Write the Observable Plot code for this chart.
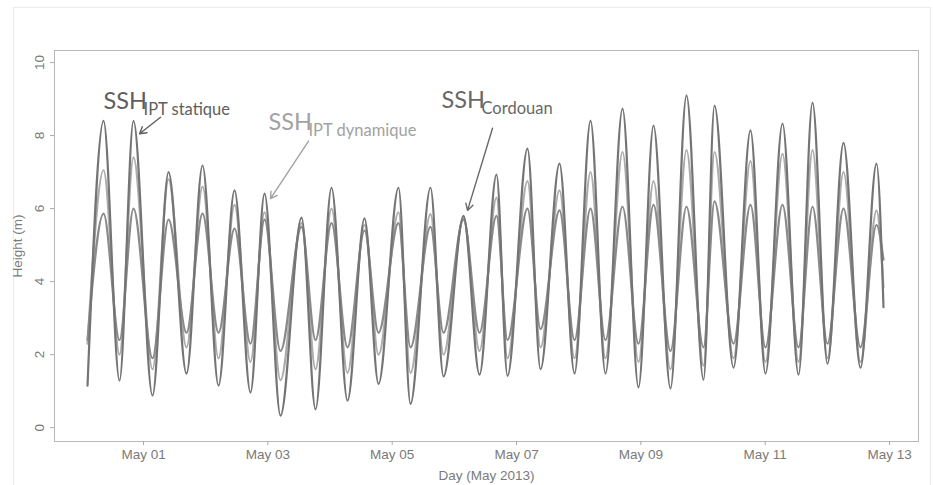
<!DOCTYPE html>
<html><head><meta charset="utf-8">
<script src="https://cdn.jsdelivr.net/npm/d3@7"></script>
<script src="https://cdn.jsdelivr.net/npm/@observablehq/plot@0.6"></script>
<style>
body{margin:0;background:#fff;}
#outer{position:absolute;left:13px;top:7px;width:918px;height:478px;border-left:1px solid #e9e9e9;border-top:1px solid #ededed;border-right:1px solid #e9e9e9;box-sizing:border-box;}
#chart{position:absolute;left:0;top:0;}
</style></head><body>
<div id="outer"></div><div id="chart"></div>
<script>
// times of the tide extrema, shared by the three series
const tideTimes = [
"2013-04-30T02:23Z","2013-04-30T08:34Z","2013-04-30T14:44Z","2013-04-30T20:08Z","2013-05-01T03:28Z",
"2013-05-01T09:39Z","2013-05-01T16:36Z","2013-05-01T22:47Z","2013-05-02T04:57Z","2013-05-02T11:08Z",
"2013-05-02T17:18Z","2013-05-02T22:43Z","2013-05-03T04:53Z","2013-05-03T13:00Z","2013-05-03T18:24Z",
"2013-05-04T00:35Z","2013-05-04T06:45Z","2013-05-04T13:19Z","2013-05-04T18:43Z","2013-05-05T02:26Z",
"2013-05-05T07:04Z","2013-05-05T14:47Z","2013-05-05T19:49Z","2013-05-06T03:32Z","2013-05-06T09:43Z",
"2013-05-06T16:16Z","2013-05-06T20:31Z","2013-05-07T04:14Z","2013-05-07T09:16Z","2013-05-07T16:35Z",
"2013-05-07T22:23Z","2013-05-08T04:34Z","2013-05-08T10:21Z","2013-05-08T16:55Z","2013-05-08T23:05Z",
"2013-05-09T04:53Z","2013-05-09T11:26Z","2013-05-09T17:37Z","2013-05-10T00:11Z","2013-05-10T04:26Z",
"2013-05-10T11:46Z","2013-05-10T18:19Z","2013-05-11T00:07Z","2013-05-11T06:41Z","2013-05-11T12:52Z",
"2013-05-11T18:16Z","2013-05-12T00:03Z","2013-05-12T06:14Z","2013-05-12T12:47Z","2013-05-12T18:58Z",
"2013-05-12T21:40Z"];
const statique = [1.15,8.4,1.29,8.4,0.88,7.0,1.48,7.18,1.15,6.5,
0.96,6.41,0.33,5.75,0.5,6.57,0.74,5.73,1.2,6.57,
0.65,6.57,1.4,5.8,1.45,6.93,1.42,7.64,1.6,7.23,
1.48,8.41,1.48,8.74,1.1,8.27,1.07,9.1,1.31,8.82,
1.64,8.14,1.48,8.33,1.45,8.9,1.75,7.8,1.64,7.23,3.3];
const dynamique = [2.3,7.05,2.0,7.4,1.6,6.8,2.2,6.6,1.9,6.1,
1.8,5.9,1.3,5.6,1.6,6.0,1.5,5.55,2.0,5.9,
1.5,5.85,2.0,5.75,2.1,6.3,1.9,6.75,2.2,6.5,
1.9,7.0,1.9,7.55,1.8,6.75,1.6,7.6,1.7,7.55,
1.9,7.3,1.8,7.5,1.8,7.6,1.9,7.0,1.8,5.95,3.85];
const cordouan = [2.4,5.86,2.4,6.0,1.9,5.7,2.6,5.86,2.6,5.45,
2.3,5.7,2.1,5.5,2.4,5.6,2.2,5.4,2.6,5.6,
2.2,5.5,2.6,5.7,2.6,5.8,2.4,6.0,2.7,5.95,
2.4,6.0,2.4,6.05,2.3,6.1,2.1,6.05,2.2,6.2,
2.3,6.1,2.2,6.1,2.2,6.05,2.3,6.0,2.2,5.55,4.6];

const xTicks = ["2013-05-01","2013-05-03","2013-05-05","2013-05-07","2013-05-09","2013-05-11","2013-05-13"];
const yTicks = [0,2,4,6,8,10];
const xDomain = ["2013-04-29T13:38Z","2013-05-13T11:11Z"];
const yDomain = [-0.38,10.33];

// annotations
const labelSubs = ["IPT statique","IPT dynamique","Cordouan"];
const labelTimes = ["2013-04-30T08:34Z","2013-05-03T00:15Z","2013-05-05T19:02Z"];
const labelHeights = [8.72,8.16,8.76];
const labelColors = ["#5e5e5e","#a2a2a2","#686868"];
const arrowFromTimes = ["2013-05-01T06:34Z","2013-05-03T15:42Z","2013-05-06T14:44Z"];
const arrowFromHeights = [8.5,7.85,8.2];
const arrowToTimes = ["2013-04-30T22:28Z","2013-05-03T01:02Z","2013-05-06T05:05Z"];
const arrowToHeights = [8.05,6.27,5.95];

const seriesNames = ["dynamique","cordouan","statique"];
const seriesValues = [dynamique, cordouan, statique];
const seriesColors = ["#acacac","#8a8a8a","#747474"];

const rows = [];
seriesNames.forEach((name, k) => seriesValues[k].forEach((v, i) =>
  rows.push({series: name, time: new Date(tideTimes[i]), h: v})));
const notes = labelSubs.map((s, i) => ({
  sub: s, time: new Date(labelTimes[i]), h: labelHeights[i], color: labelColors[i],
  t1: new Date(arrowFromTimes[i]), h1: arrowFromHeights[i],
  t2: new Date(arrowToTimes[i]), h2: arrowToHeights[i]
}));

const lineMarks = seriesNames.map((name, k) =>
  Plot.line(rows.filter(d => d.series === name), {
    x: "time", y: "h", stroke: seriesColors[k], strokeWidth: 2.2, curve: "monotone-x"
  }));

const chart = Plot.plot({
  width: 933, height: 485,
  marginLeft: 54, marginRight: 15, marginTop: 50, marginBottom: 44,
  style: {fontFamily: "'Liberation Sans Narrow','Liberation Sans',Arial,sans-serif", color: "#777", background: "transparent"},
  x: {type: "utc", domain: xDomain.map(d => new Date(d))},
  y: {domain: yDomain},
  marks: [
    Plot.frame({stroke: "#b8b8b8"}),
    Plot.axisX({ticks: xTicks.map(d => new Date(d + "T00:00Z")), tickFormat: d3.utcFormat("%b %d"),
      tickSize: 4, tickPadding: 4, fontSize: 13.5, stroke: "#aaa", fill: "#7a7a7a",
      label: "Day (May 2013)", labelAnchor: "center", labelOffset: 38, labelArrow: "none"}),
    Plot.axisY({ticks: yTicks, tickSize: 4, tickPadding: 7, tickRotate: -90, fontSize: 13.5,
      stroke: "#aaa", fill: "#7a7a7a",
      label: "Height (m)", labelAnchor: "center", labelOffset: 42, labelArrow: "none"}),
    ...lineMarks,
    Plot.arrow(notes, {x1: "t1", y1: "h1", x2: "t2", y2: "h2", stroke: "color", strokeWidth: 1.4, headLength: 8}),
    Plot.text(notes, {x: "time", y: "h", text: () => "SSH", fill: "color", textAnchor: "start", lineAnchor: "bottom",
      fontSize: 23.5, fontFamily: "Lato, 'Open Sans', sans-serif"}),
    Plot.text(notes, {x: "time", y: "h", text: "sub", fill: "color", textAnchor: "start", lineAnchor: "bottom",
      fontSize: 16.5, dx: 40, dy: 6, fontFamily: "Lato, 'Open Sans', sans-serif"})
  ]
});
document.getElementById("chart").appendChild(chart);
</script>
</body></html>
